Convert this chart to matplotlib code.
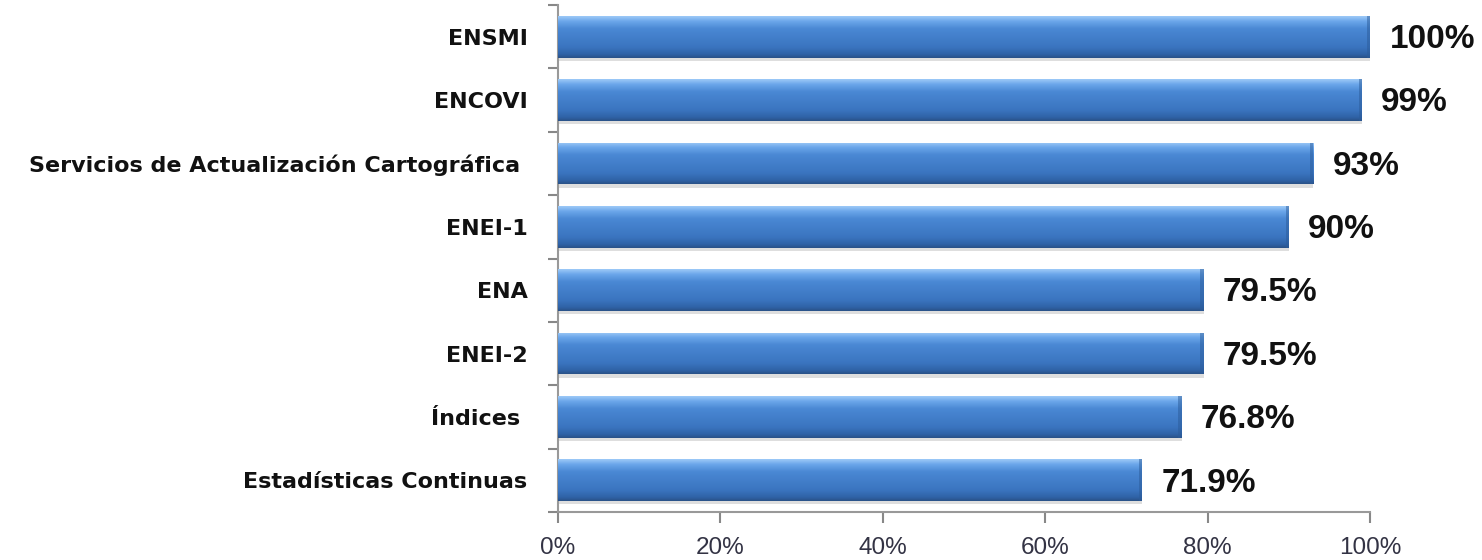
import numpy as np
import matplotlib
matplotlib.use('Agg')
import matplotlib.pyplot as plt
from matplotlib.colors import LinearSegmentedColormap

plt.rcParams['font.family'] = ['Liberation Sans', 'DejaVu Sans']

# data, top to bottom
categories = ['ENSMI', 'ENCOVI', 'Servicios de Actualización Cartográfica ', 'ENEI-1',
              'ENA', 'ENEI-2', 'Índices ', 'Estadísticas Continuas']
values = [100, 99, 93, 90, 79.5, 79.5, 76.8, 71.9]
value_labels = ['100%', '99%', '93%', '90%', '79.5%', '79.5%', '76.8%', '71.9%']
xticks = [0, 20, 40, 60, 80, 100]
xtick_labels = ['0%', '20%', '40%', '60%', '80%', '100%']

fig = plt.figure(figsize=(14.82, 5.6), dpi=100)
ax = fig.add_axes([558 / 1482, 1 - 512 / 560, (1370 - 558) / 1482, (512 - 5) / 560])

n = len(categories)
ypos = np.arange(n)
bar_h = 0.66

# bar gradient: light top edge, mid blue, dark bottom
grad = LinearSegmentedColormap.from_list('bar', [
    (0.0, '#9cc9f7'), (0.12, '#6aa6ea'), (0.3, '#4a88d4'),
    (0.75, '#3a74bf'), (0.92, '#2f62a6'), (1.0, '#2a5288')])
gimg = np.linspace(0, 1, 64).reshape(-1, 1)

# shadows first
ax.barh(ypos + 0.05, values, height=bar_h, color='#d0d0d0', alpha=0.7, zorder=1)
bars = ax.barh(ypos, values, height=bar_h, color='#3d7bc8', zorder=2)
for b in bars:
    x0, y0, w, h = b.get_x(), b.get_y(), b.get_width(), b.get_height()
    im = ax.imshow(gimg, cmap=grad, aspect='auto', extent=(x0, x0 + w, y0, y0 + h),
                   origin='lower', zorder=3, interpolation='bicubic')
    im.set_clip_path(b)
    # darker right end
    ax.barh(b.get_y() + h / 2, 0.4, left=x0 + w - 0.4, height=h, color='#2c5c9a',
            alpha=0.5, zorder=4)

for y, v, lab in zip(ypos, values, value_labels):
    ax.annotate(lab, (v, y), xytext=(14, -2), textcoords='offset points', va='center',
                ha='left', fontsize=24, fontweight='bold', color='#111111')

ax.set_xlim(0, 100)
ax.set_ylim(n - 0.5, -0.5)
ax.set_xticks(xticks)
ax.set_xticklabels(xtick_labels, fontsize=17.5, color='#333344')
ax.set_yticks(ypos)
ax.set_yticklabels(categories, fontsize=16, fontweight='bold', color='#111111',
                   family=['DejaVu Sans'])
ax.tick_params(axis='y', length=0, pad=22)
ax.set_yticks(np.arange(n + 1) - 0.5, minor=True)
ax.tick_params(axis='y', which='minor', length=7, color='#888888', width=1.5)
ax.tick_params(axis='x', length=8, color='#888888', width=1.5, pad=10)

for s in ['top', 'right']:
    ax.spines[s].set_visible(False)
for s in ['left', 'bottom']:
    ax.spines[s].set_color('#999999')
    ax.spines[s].set_linewidth(1.5)

fig.savefig('out.png', dpi=100)
